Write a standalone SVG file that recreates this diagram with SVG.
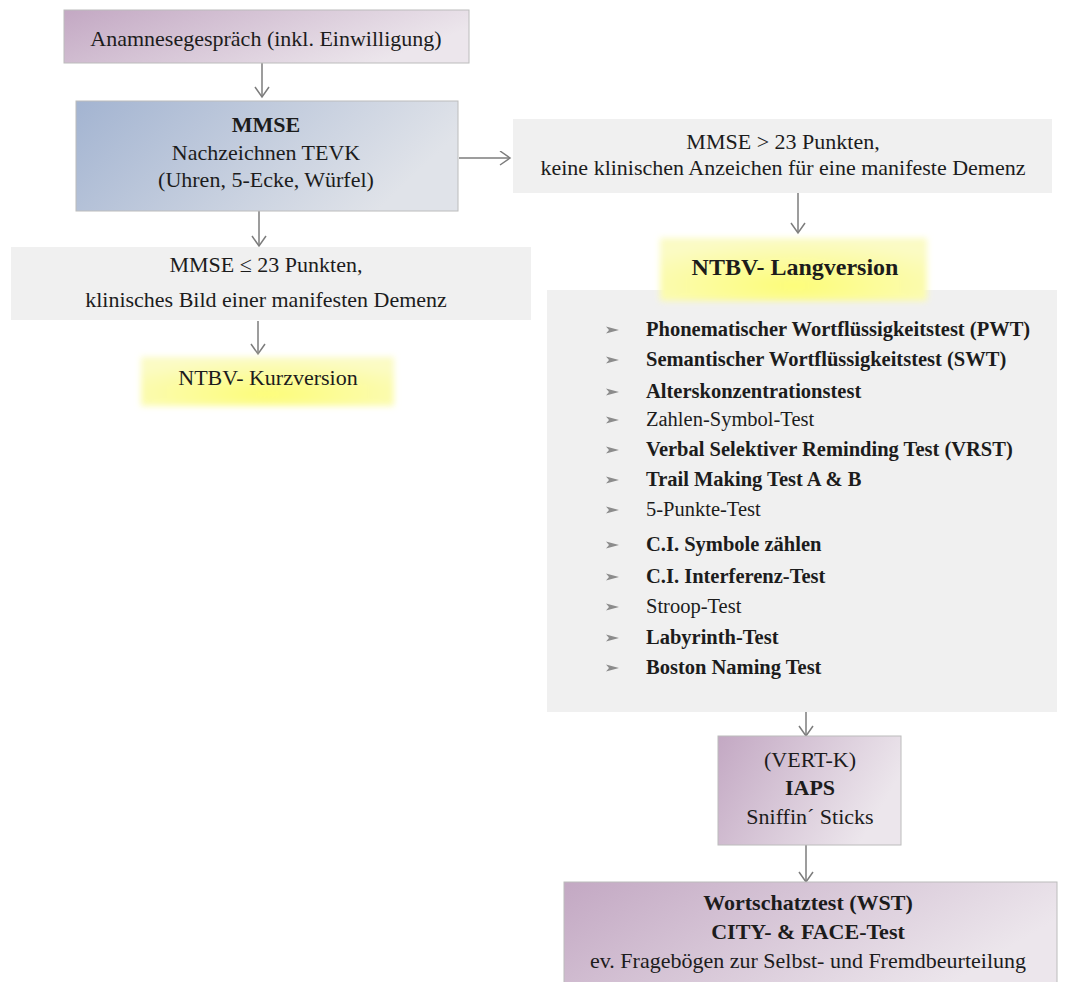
<svg xmlns="http://www.w3.org/2000/svg" width="1067" height="982" viewBox="0 0 1067 982">
  <defs>
    <linearGradient id="gPurple" x1="0" y1="0" x2="1" y2="0.35">
      <stop offset="0" stop-color="#c3a8c3"/>
      <stop offset="1" stop-color="#ece6ec"/>
    </linearGradient>
    <linearGradient id="gBlue" x1="0" y1="0" x2="1" y2="0.3">
      <stop offset="0" stop-color="#a3b4d1"/>
      <stop offset="1" stop-color="#e0e3e9"/>
    </linearGradient>
    <radialGradient id="gYellow" cx="0.5" cy="0.75" r="0.7">
      <stop offset="0" stop-color="#fdfd78"/>
      <stop offset="1" stop-color="#fbfbc4"/>
    </radialGradient>
    <filter id="soft" x="-10%" y="-20%" width="120%" height="140%">
      <feGaussianBlur stdDeviation="3"/>
    </filter>
    <marker id="arrow" markerUnits="userSpaceOnUse" markerWidth="14" markerHeight="16" refX="11" refY="7.5" orient="auto">
      <path d="M1,0.5 L11,7.5 L1,14.5" fill="none" stroke="#7c7c7c" stroke-width="1.5"/>
    </marker>
  </defs>
  <style>
    text { font-family: "Liberation Serif", "Times New Roman", serif; fill: #1c1c1c; }
    .c { text-anchor: middle; font-size: 22px; }
    .b { font-weight: bold; }
    .li { font-size: 20.5px; }
    .box { stroke: #bcbcbc; stroke-width: 1; }
    .gray { fill: #f0f0f0; }
    .conn { stroke: #7c7c7c; stroke-width: 1.5; fill: none; marker-end: url(#arrow); }
    .bullet { fill: #8c8c8c; }
  </style>

  <!-- connectors -->
  <g id="connectors">
    <line class="conn" x1="262" y1="63" x2="262" y2="97"/>
    <line class="conn" x1="459" y1="158" x2="510" y2="158"/>
    <line class="conn" x1="259" y1="211" x2="259" y2="246"/>
    <line class="conn" x1="258" y1="321" x2="258" y2="354"/>
    <line class="conn" x1="798" y1="193" x2="798" y2="233"/>
    <line class="conn" x1="806" y1="712" x2="806" y2="736"/>
    <line class="conn" x1="806" y1="845" x2="806" y2="882"/>
  </g>

  <g id="anamnese">
    <rect class="box" x="64" y="10" width="405" height="53" fill="url(#gPurple)"/>
    <text class="c" x="266" y="46">Anamnesegespräch (inkl. Einwilligung)</text>
  </g>

  <g id="mmse">
    <rect class="box" x="76" y="101" width="382" height="110" fill="url(#gBlue)"/>
    <text class="c b" x="266" y="132">MMSE</text>
    <text class="c" x="266" y="160">Nachzeichnen TEVK</text>
    <text class="c" x="266" y="187">(Uhren, 5-Ecke, Würfel)</text>
  </g>

  <g id="mmse-low">
    <rect class="gray" x="11" y="247" width="520" height="73"/>
    <text class="c" x="266" y="272">MMSE ≤ 23 Punkten,</text>
    <text class="c" x="266" y="307">klinisches Bild einer manifesten Demenz</text>
  </g>

  <g id="kurzversion">
    <rect x="141" y="357" width="253" height="49" fill="url(#gYellow)" filter="url(#soft)"/>
    <text class="c" x="268" y="385">NTBV- Kurzversion</text>
  </g>

  <g id="mmse-high">
    <rect class="gray" x="513" y="119" width="539" height="74"/>
    <text class="c" x="783" y="149">MMSE &gt; 23 Punkten,</text>
    <text class="c" x="783" y="175">keine klinischen Anzeichen für eine manifeste Demenz</text>
  </g>

  <g id="testliste">
    <rect class="gray" x="547" y="290" width="510" height="422"/>
    <g id="bullets">
      <polygon class="bullet" points="606,326.5 619,330 606,333.5 609,330"/>
      <polygon class="bullet" points="606,356.5 619,360 606,363.5 609,360"/>
      <polygon class="bullet" points="606,388.5 619,392 606,395.5 609,392"/>
      <polygon class="bullet" points="606,416.5 619,420 606,423.5 609,420"/>
      <polygon class="bullet" points="606,446.5 619,450 606,453.5 609,450"/>
      <polygon class="bullet" points="606,476.5 619,480 606,483.5 609,480"/>
      <polygon class="bullet" points="606,506.5 619,510 606,513.5 609,510"/>
      <polygon class="bullet" points="606,541.5 619,545 606,548.5 609,545"/>
      <polygon class="bullet" points="606,573.5 619,577 606,580.5 609,577"/>
      <polygon class="bullet" points="606,603.5 619,607 606,610.5 609,607"/>
      <polygon class="bullet" points="606,634.5 619,638 606,641.5 609,638"/>
      <polygon class="bullet" points="606,664.5 619,668 606,671.5 609,668"/>
    </g>
    <text class="li b" x="646" y="336">Phonematischer Wortflüssigkeitstest (PWT)</text>
    <text class="li b" x="646" y="366">Semantischer Wortflüssigkeitstest (SWT)</text>
    <text class="li b" x="646" y="398">Alterskonzentrationstest</text>
    <text class="li" x="646" y="426">Zahlen-Symbol-Test</text>
    <text class="li b" x="646" y="456">Verbal Selektiver Reminding Test (VRST)</text>
    <text class="li b" x="646" y="486">Trail Making Test A &amp; B</text>
    <text class="li" x="646" y="516">5-Punkte-Test</text>
    <text class="li b" x="646" y="551">C.I. Symbole zählen</text>
    <text class="li b" x="646" y="583">C.I. Interferenz-Test</text>
    <text class="li" x="646" y="613">Stroop-Test</text>
    <text class="li b" x="646" y="644">Labyrinth-Test</text>
    <text class="li b" x="646" y="674">Boston Naming Test</text>
  </g>

  <g id="langversion">
    <rect x="660" y="238" width="267" height="63" fill="url(#gYellow)" filter="url(#soft)"/>
    <text class="c b" x="795" y="275" style="font-size:24px">NTBV- Langversion</text>
  </g>

  <g id="vert-k">
    <rect class="box" x="718" y="736" width="183" height="109" fill="url(#gPurple)"/>
    <text class="c" x="810" y="767">(VERT-K)</text>
    <text class="c b" x="810" y="795">IAPS</text>
    <text class="c" x="810" y="824">Sniffin´ Sticks</text>
  </g>

  <g id="wortschatz">
    <rect class="box" x="564" y="882" width="493" height="106" fill="url(#gPurple)"/>
    <text class="c b" x="808" y="910">Wortschatztest (WST)</text>
    <text class="c b" x="808" y="939">CITY- &amp; FACE-Test</text>
    <text class="c" x="808" y="968">ev. Fragebögen zur Selbst- und Fremdbeurteilung</text>
  </g>
</svg>
